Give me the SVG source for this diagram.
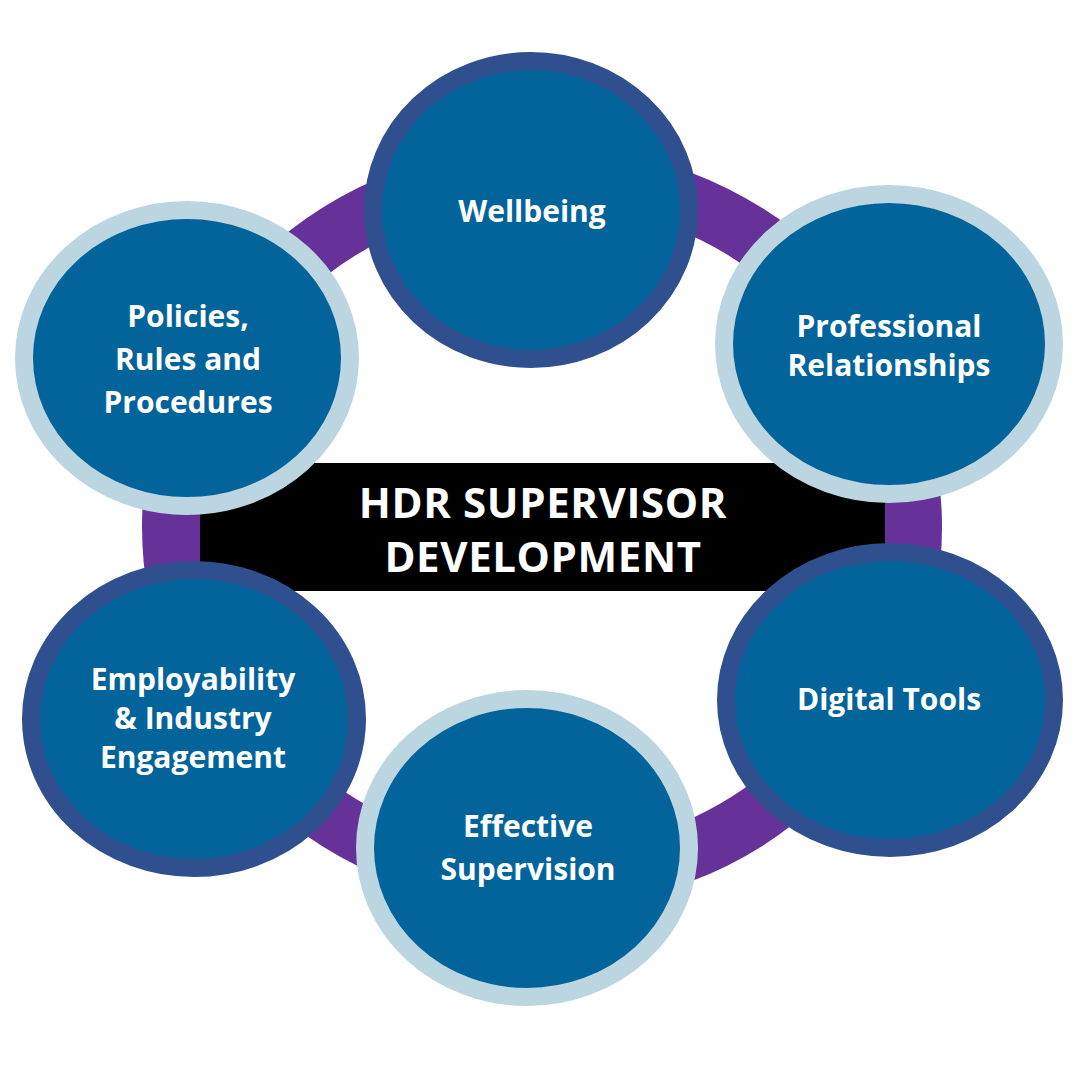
<svg xmlns="http://www.w3.org/2000/svg" width="1080" height="1080" viewBox="0 0 1080 1080">
  <style>
    .node { fill: #03649B; stroke-width: 18; }
    .dark { stroke: #2F4F8E; }
    .light { stroke: #BCD6E1; }
    .lbl { font-family: "Open Sans", "Liberation Sans", sans-serif; font-weight: 700; font-size: 30px; fill: #FFFFFF; text-anchor: middle; }
    .title { font-family: "Open Sans", "Liberation Sans", sans-serif; font-weight: 700; font-size: 42px; letter-spacing: 0.6px; fill: #FFFFFF; text-anchor: middle; }
  </style>
  <rect x="0" y="0" width="1080" height="1080" fill="#FFFFFF"/>
  <g id="connectors">
    <ellipse cx="542" cy="527" rx="371" ry="353" fill="none" stroke="#66329A" stroke-width="58"/>
  </g>
  <g id="center">
    <rect x="200" y="463" width="685" height="128" fill="#000000"/>
    <text class="title" x="543" y="518">HDR SUPERVISOR</text>
    <text class="title" x="543" y="572">DEVELOPMENT</text>
  </g>
  <g id="wellbeing">
    <ellipse class="node dark" cx="531" cy="210" rx="158" ry="149"/>
    <text class="lbl" x="532" y="222">Wellbeing</text>
  </g>
  <g id="policies">
    <ellipse class="node light" cx="187" cy="358" rx="163" ry="148"/>
    <text class="lbl" x="188" y="327">Policies,</text>
    <text class="lbl" x="188" y="370">Rules and</text>
    <text class="lbl" x="188" y="413">Procedures</text>
  </g>
  <g id="professional">
    <ellipse class="node light" cx="889" cy="344" rx="165" ry="150"/>
    <text class="lbl" x="889" y="337">Professional</text>
    <text class="lbl" x="889" y="376">Relationships</text>
  </g>
  <g id="digital">
    <ellipse class="node dark" cx="890" cy="700" rx="164" ry="148"/>
    <text class="lbl" x="889" y="710">Digital Tools</text>
  </g>
  <g id="effective">
    <ellipse class="node light" cx="527" cy="848" rx="162" ry="149"/>
    <text class="lbl" x="528" y="837">Effective</text>
    <text class="lbl" x="528" y="880">Supervision</text>
  </g>
  <g id="employability">
    <ellipse class="node dark" cx="194" cy="719" rx="163" ry="149"/>
    <text class="lbl" x="193" y="690">Employability</text>
    <text class="lbl" x="193" y="729">&amp; Industry</text>
    <text class="lbl" x="193" y="768">Engagement</text>
  </g>
</svg>
